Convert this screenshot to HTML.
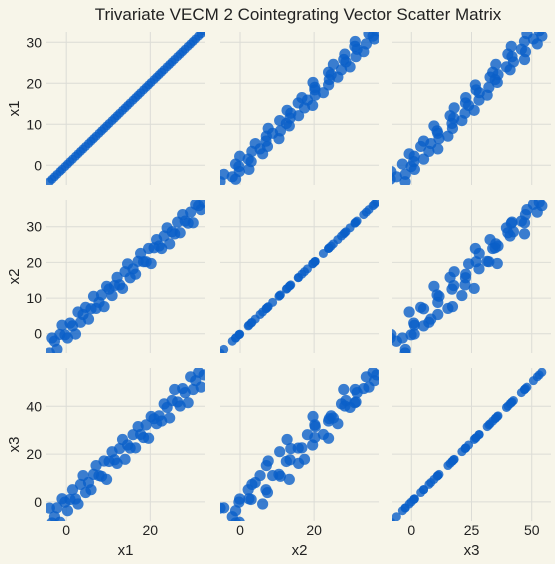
<!DOCTYPE html>
<html><head><meta charset="utf-8"><style>
html,body{margin:0;padding:0;background:#f7f5e9;overflow:hidden;}
svg{display:block;}
svg text{font-family:"Liberation Sans","DejaVu Sans",sans-serif;fill:#222;}
</style></head><body>
<svg id="chart" width="555" height="564" viewBox="0 0 555 564" xmlns="http://www.w3.org/2000/svg">
<rect width="555" height="564" fill="#f7f5e9"/>
<text x="298" y="20" text-anchor="middle" font-size="17">Trivariate VECM 2 Cointegrating Vector Scatter Matrix</text>
</svg>
<script>
const varNames = ["x1","x2","x3"];
const x1 = [-4,-3.4,-2.8,-2.2,-1.5,-1,-0.3,0.3,0.9,1.5,2.2,2.8,3.4,4,4.6,5.3,5.9,6.5,7.1,7.8,8.4,9,9.6,10.2,10.9,11.5,12.1,12.7,13.4,14,14.6,15.2,15.9,16.5,17.1,17.7,18.4,19,19.6,20.2,20.9,21.5,22.1,22.7,23.3,24,24.6,25.2,25.8,26.5,27.1,27.7,28.3,29,29.6,30.2,30.8,31.5,32.1,32.8];
const x2 = [-5.4,-1.2,-2.1,-4.4,-0.2,2.4,-0.3,-1.2,3.0,2.2,-0.1,6.1,3.2,5.4,7.4,4.1,7.0,10.5,7.1,8.8,10.9,7.6,13.3,12.5,10.7,13.5,15.8,13.7,12.7,17.4,19.6,15.7,18.2,16.7,20.3,22.5,20.2,20.2,23.9,19.7,24.1,26.4,24.6,23.9,27.4,29.7,25.2,28.6,28.0,31.3,28.3,33.4,31.6,31.0,34.1,31.1,36.3,35.9,34.8,36.9];
const x3 = [-2.6,-8.8,-6.2,-2.5,-8.5,1.3,-0.1,-3.7,1.0,5.1,1.2,-0.9,7.3,11.0,3.9,8.1,5.1,11.5,15.2,11.0,10.7,17.1,9.4,16.9,21.0,17.6,16.1,22.3,26.1,17.8,23.8,22.5,28.1,22.6,31.5,28.2,26.9,32.2,26.6,35.7,34.8,32.7,36.0,33.8,41.0,39.5,35.1,42.4,47.0,41.8,40.1,47.4,45.7,41.5,52.3,47.0,50.7,54.2,48.0,53.1];
const ticksX1 = [0,10,20,30];
const ticksX2 = [0,10,20,30];
const ticksX3 = [0,20,40];
const xTicksX1 = [0,20];
const xTicksX2 = [0,20];
const xTicksX3 = [0,25,50];

const NS="http://www.w3.org/2000/svg";
const svg=document.getElementById('chart');
const series=[x1,x2,x3];
const yTickSets=[ticksX1,ticksX2,ticksX3];
const xTickSets=[xTicksX1,xTicksX2,xTicksX3];
const colL=[46,220,392], colW=159;
const colDom=[[-4.8,33],[-5.4,37.5],[-8,58]];
const rowT=[32,200,368], rowH=153;
const rowDom=[[-4.8,32.5],[-5.4,37.5],[-8,56]];
function sx(c,v){const d=colDom[c];return colL[c]+(v-d[0])/(d[1]-d[0])*colW;}
function sy(r,v){const d=rowDom[r];return rowT[r]+rowH-(v-d[0])/(d[1]-d[0])*rowH;}
function mk(t,a){const e=document.createElementNS(NS,t);for(const k in a)e.setAttribute(k,a[k]);return e;}

const defs=mk('defs',{});svg.appendChild(defs);
for(let r=0;r<3;r++)for(let c=0;c<3;c++){
  const cp=mk('clipPath',{id:'cp'+r+c});
  cp.appendChild(mk('rect',{x:colL[c],y:rowT[r],width:colW,height:rowH}));
  defs.appendChild(cp);
  const g=mk('g',{});
  
  
  svg.appendChild(g);
  yTickSets[r].forEach(t=>{const y=sy(r,t);const l=mk('line',{x1:colL[c],x2:colL[c]+colW,y1:y,y2:y,stroke:'#dcdcd6','stroke-width':1});
    g.appendChild(l);});
  xTickSets[c].forEach(t=>{const x=sx(c,t);const l=mk('line',{x1:x,x2:x,y1:rowT[r],y2:rowT[r]+rowH,stroke:'#dcdcd6','stroke-width':1});
    g.appendChild(l);});
  const pg=mk('g',{'clip-path':'url(#cp'+r+c+')'});g.appendChild(pg);
  const xs=series[c], ys=series[r];
  for(let i=0;i<xs.length;i++){
    const p=mk('circle',{cx:sx(c,xs[i]),cy:sy(r,ys[i]),r:c===r?4.5:5.6,fill:'#0a5fc8','fill-opacity':0.8});
    
    
    pg.appendChild(p);
  }
}
for(let r=0;r<3;r++){
  yTickSets[r].forEach(t=>{const tx=mk('text',{x:42,y:sy(r,t)+5,'text-anchor':'end','font-size':14});tx.textContent=t;
    svg.appendChild(tx);});
  const cy=rowT[r]+rowH/2;
  const lab=mk('text',{x:19,y:cy,'text-anchor':'middle','font-size':15,transform:'rotate(-90 19 '+cy+')'});
  lab.textContent=varNames[r];
  svg.appendChild(lab);
}
for(let c=0;c<3;c++){
  xTickSets[c].forEach(t=>{const tx=mk('text',{x:sx(c,t),y:535,'text-anchor':'middle','font-size':14});tx.textContent=t;
    svg.appendChild(tx);});
  const lab=mk('text',{x:colL[c]+colW/2,y:555,'text-anchor':'middle','font-size':15});
  lab.textContent=varNames[c];
  svg.appendChild(lab);
}
</script>
</body></html>
